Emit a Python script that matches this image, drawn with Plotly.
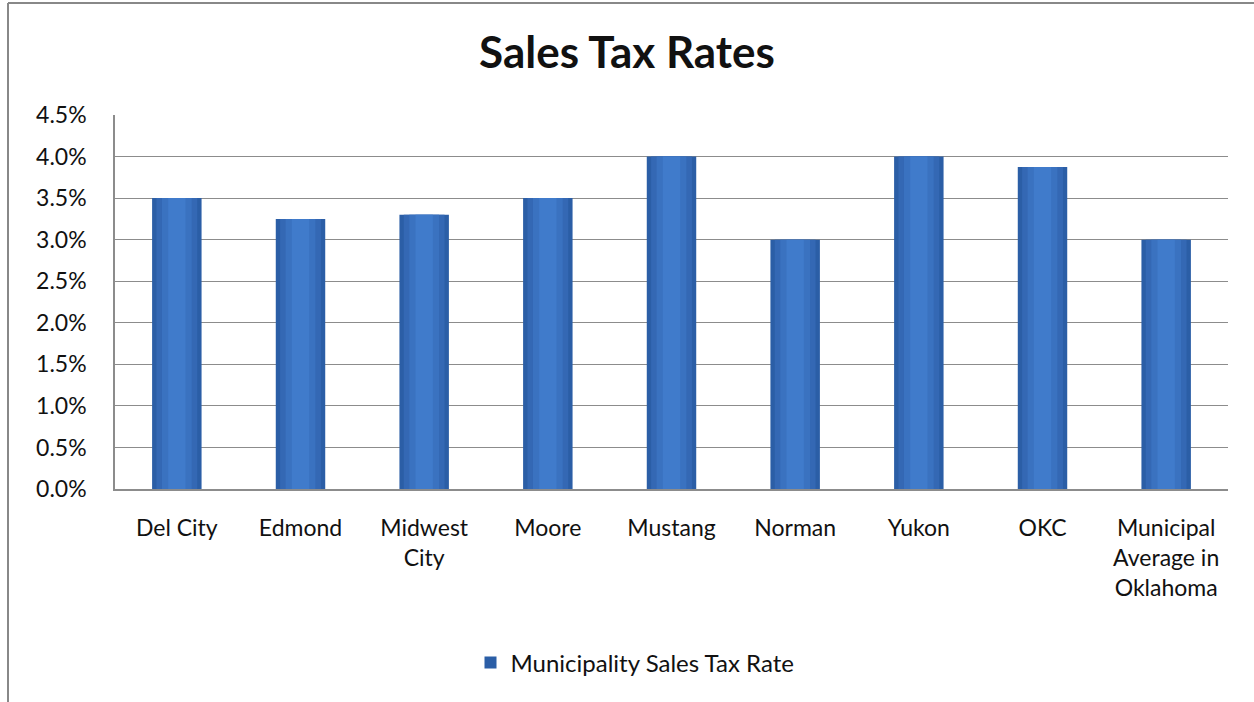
import plotly.graph_objects as go

categories = ["Del City", "Edmond", "Midwest<br>City", "Moore", "Mustang", "Norman",
              "Yukon", "OKC", "Municipal<br>Average in<br>Oklahoma"]
rates = [3.5, 3.25, 3.3, 3.5, 4.0, 3.0, 4.0, 3.875, 3.0]
y_ticks = [0, 0.5, 1.0, 1.5, 2.0, 2.5, 3.0, 3.5, 4.0, 4.5]
y_tick_labels = ["0.0%", "0.5%", "1.0%", "1.5%", "2.0%", "2.5%", "3.0%", "3.5%", "4.0%", "4.5%"]
series_name = "Municipality Sales Tax Rate"

FONT = "Lato, 'Open Sans', sans-serif"
W, H = 1254, 702
L, R, T, B = 115, 26, 115, 213

fig = go.Figure()
# layered bars to imitate the horizontal gradient of the original
layers = [(0.40, "#2B5EA6", True), (0.33, "#3468B4", False), (0.24, "#3A72C0", False), (0.14, "#407BCB", False)]
for width, color, show in layers:
    fig.add_trace(go.Bar(
        x=categories, y=rates, width=width, name=series_name, showlegend=show,
        marker=dict(color=color, line=dict(width=0)),
    ))

pw = W - L - R
ph = H - T - B
def px_x(p):
    return (p - L) / pw
def px_y(p):
    return (H - B - p) / ph

fig.update_layout(
    width=W, height=H,
    margin=dict(l=L, r=R, t=T, b=B),
    paper_bgcolor="white", plot_bgcolor="white",
    barmode="overlay",
    font=dict(family=FONT, color="#111111"),
    title=dict(text="<b>Sales Tax Rates</b>", x=0.5, xanchor="center",
               y=1 - 53 / H, yanchor="middle", font=dict(size=44, family=FONT)),
    xaxis=dict(showline=True, linecolor="#8C8C8C", linewidth=1.5, ticks="",
               tickfont=dict(size=23), ticklabelstandoff=18, range=[-0.5, 8.5]),
    yaxis=dict(range=[0, 4.5], tickvals=y_ticks, ticktext=y_tick_labels,
               showgrid=True, gridcolor="#8C8C8C", gridwidth=1.2,
               showline=True, linecolor="#8C8C8C", linewidth=1.5, ticks="",
               tickfont=dict(size=23), ticklabelstandoff=22, zeroline=False),
    legend=dict(orientation="h", x=px_x(635), xanchor="center", y=px_y(663), yanchor="middle",
                font=dict(size=24), itemwidth=30),
    shapes=[
        dict(type="line", xref="paper", yref="paper", x0=px_x(8), x1=px_x(8),
             y0=px_y(3), y1=px_y(702), line=dict(color="#888888", width=2)),
        dict(type="line", xref="paper", yref="paper", x0=px_x(8), x1=px_x(1254),
             y0=px_y(3), y1=px_y(3), line=dict(color="#888888", width=2)),
    ],
)

fig.write_html("out.html")
